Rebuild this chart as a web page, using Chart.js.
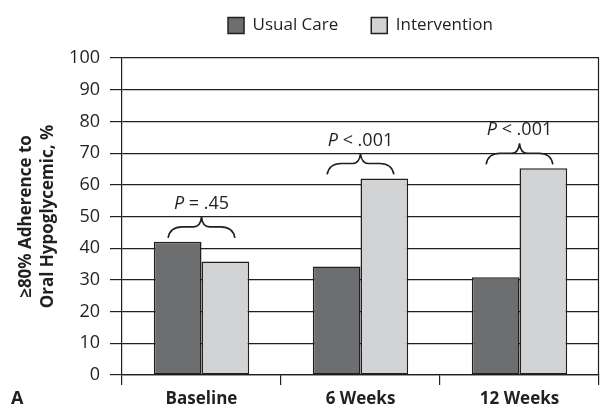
<!DOCTYPE html>
<html>
<head>
<meta charset="utf-8">
<script src="https://cdn.jsdelivr.net/npm/chart.js@4/dist/chart.umd.min.js"></script>
<style>
  html, body { margin: 0; padding: 0; background: #fff; }
  #wrap { width: 600px; height: 407px; }
</style>
</head>
<body>
<div id="wrap"><canvas id="adherence-chart" width="600" height="407"></canvas></div>
<script>
const categories = ["Baseline", "6 Weeks", "12 Weeks"];
const usualCare = [42, 34.2, 30.8];
const intervention = [35.8, 62, 65.2];
const pValues = [" = .45", " < .001", " < .001"];
const yTitle = ["\u226580% Adherence to", "Oral Hypoglycemic, %"];

const ink = "#231f20";
const font = "'Open Sans', sans-serif";

// curly braces + P values over each pair of bars
const bracePlugin = {
  id: "braces",
  afterInit(chart) {
    // make the legend box tall enough to push the plot top down
    const legend = chart.legend;
    const fit = legend.fit;
    legend.fit = function () {
      fit.call(this);
      this.height = 74;
    };
  },
  afterDatasetsDraw(chart) {
    const ctx = chart.ctx;
    const m0 = chart.getDatasetMeta(0).data;
    const m1 = chart.getDatasetMeta(1).data;
    ctx.save();
    ctx.strokeStyle = ink;
    ctx.fillStyle = ink;
    ctx.lineWidth = 1.6;
    categories.forEach((_, i) => {
      const a = m0[i], b = m1[i];
      const c = (a.x + b.x) / 2;
      const half = a.width * 0.7;
      const xL = c - half, xR = c + half;
      const yb = Math.min(a.y, b.y) - 4;
      const ym = yb - 11;
      const yt = yb - 21;
      ctx.beginPath();
      ctx.moveTo(xL, yb);
      ctx.quadraticCurveTo(xL + 2, ym, xL + 14, ym);
      ctx.lineTo(c - 8, ym);
      ctx.quadraticCurveTo(c - 1, ym, c, yt);
      ctx.quadraticCurveTo(c + 1, ym, c + 8, ym);
      ctx.lineTo(xR - 14, ym);
      ctx.quadraticCurveTo(xR - 2, ym, xR, yb);
      ctx.stroke();

      ctx.textBaseline = "middle";
      ctx.textAlign = "left";
      ctx.font = "italic 18px " + font;
      const pW = ctx.measureText("P").width;
      ctx.font = "18px " + font;
      const rest = pValues[i];
      const rW = ctx.measureText(rest).width;
      const x0 = c - (pW + rW) / 2;
      const ty = yt - 13;
      ctx.font = "italic 18px " + font;
      ctx.fillText("P", x0, ty);
      ctx.font = "18px " + font;
      ctx.fillText(rest, x0 + pW, ty);
    });
    ctx.restore();
  },
  afterDraw(chart) {
    const ctx = chart.ctx;
    const area = chart.chartArea;
    ctx.save();
    ctx.strokeStyle = ink;
    ctx.lineWidth = 1.2;
    ctx.beginPath();
    ctx.moveTo(area.right - 0.5, area.top);
    ctx.lineTo(area.right - 0.5, area.bottom);
    ctx.stroke();
    ctx.fillStyle = ink;
    ctx.font = "bold 18px " + font;
    ctx.textBaseline = "middle";
    ctx.fillText("A", 11, chart.scales.x.top + 24);
    ctx.restore();
  }
};

new Chart(document.getElementById("adherence-chart"), {
  type: "bar",
  data: {
    labels: categories,
    datasets: [
      {
        label: "Usual Care",
        data: usualCare,
        backgroundColor: "#6d6e70",
        borderColor: ink,
        borderWidth: 1.5,
        borderSkipped: false,
      },
      {
        label: "Intervention",
        data: intervention,
        backgroundColor: "#d1d3d4",
        borderColor: ink,
        borderWidth: 1.5,
        borderSkipped: false,
      },
    ],
  },
  options: {
    responsive: false,
    animation: false,
    layout: { padding: { top: -16, right: 1, left: 0, bottom: 0 } },
    datasets: { bar: { categoryPercentage: 0.6, barPercentage: 1.0 } },
    plugins: {
      tooltip: { enabled: false },
      legend: {
        position: "top",
        fullSize: false,
        labels: {
          boxWidth: 16,
          boxHeight: 16,
          padding: 33,
          color: ink,
          font: { family: font, size: 17 },
        },
      },
    },
    scales: {
      x: {
        offset: true,
        grid: {
          offset: true,
          drawOnChartArea: false,
          drawTicks: true,
          tickLength: 10,
          color: ink,
          lineWidth: 1.2,
        },
        border: { color: ink, width: 1.2 },
        ticks: { color: ink, padding: 4, font: { family: font, size: 17, weight: "bold" } },
        afterFit(scale) {
          scale.height = 32;
        },
      },
      y: {
        min: 0,
        max: 100,
        ticks: { stepSize: 10, color: ink, padding: 10, font: { family: font, size: 18 } },
        grid: { color: ink, lineWidth: 1.2, tickLength: 12 },
        border: { color: ink, width: 1.2 },
        title: {
          display: true,
          text: yTitle,
          color: ink,
          padding: { top: 16, bottom: 0 },
          font: { family: font, size: 17, weight: "bold", lineHeight: 1.25 },
        },
        afterFit(scale) {
          scale.width = 122;
        },
      },
    },
  },
  plugins: [bracePlugin],
});
</script>
</body>
</html>
